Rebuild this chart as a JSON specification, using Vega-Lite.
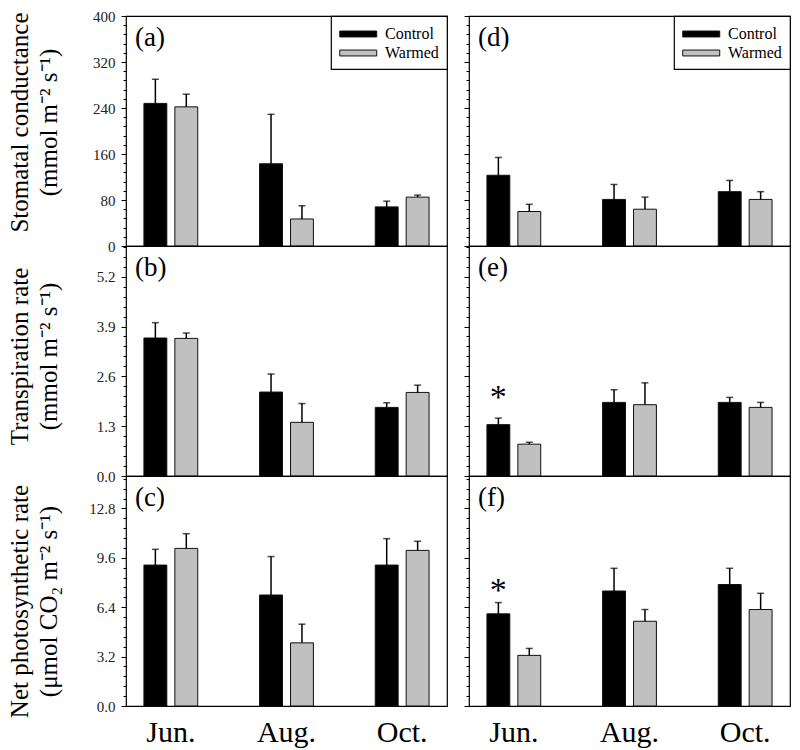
{
  "$schema": "https://vega.github.io/schema/vega-lite/v6.json",
  "padding": {"left": 6, "top": 8, "right": 5, "bottom": 0},
  "config": {
    "view": {"stroke": "#000", "strokeWidth": 1.2},
    "axis": {"labelFont": "Liberation Serif", "titleFont": "Liberation Serif", "labelColor": "#222", "titleColor": "#000", "tickColor": "#000", "tickWidth": 1, "titleFontWeight": "normal", "grid": false, "domain": false, "labelOverlap": false},
    "legend": {"orient": "top-right", "offset": 0, "title": null, "strokeColor": "#000", "strokeWidth": 1.2, "fillColor": "#fff", "padding": 8, "symbolType": "M-1,-0.32H3V0.32H-1Z", "symbolSize": 342, "symbolStrokeColor": "#111", "symbolStrokeWidth": 1, "symbolOpacity": 1, "labelFont": "Liberation Serif", "labelFontSize": 16, "labelColor": "#000", "labelOffset": 26, "rowPadding": 1, "cornerRadius": 0}
  },
  "data": {"values": [
    {"panel": "a", "month": "Jun.", "trt": "Control", "mean": 248, "hi": 290},
    {"panel": "a", "month": "Jun.", "trt": "Warmed", "mean": 242, "hi": 264},
    {"panel": "a", "month": "Aug.", "trt": "Control", "mean": 143, "hi": 229},
    {"panel": "a", "month": "Aug.", "trt": "Warmed", "mean": 47, "hi": 70},
    {"panel": "a", "month": "Oct.", "trt": "Control", "mean": 68, "hi": 78},
    {"panel": "a", "month": "Oct.", "trt": "Warmed", "mean": 85, "hi": 88.5},
    {"panel": "d", "month": "Jun.", "trt": "Control", "mean": 123, "hi": 154},
    {"panel": "d", "month": "Jun.", "trt": "Warmed", "mean": 60, "hi": 72.5},
    {"panel": "d", "month": "Aug.", "trt": "Control", "mean": 81, "hi": 107},
    {"panel": "d", "month": "Aug.", "trt": "Warmed", "mean": 64, "hi": 85},
    {"panel": "d", "month": "Oct.", "trt": "Control", "mean": 94.5, "hi": 114},
    {"panel": "d", "month": "Oct.", "trt": "Warmed", "mean": 81, "hi": 94.5},
    {"panel": "b", "month": "Jun.", "trt": "Control", "mean": 3.6, "hi": 4.0},
    {"panel": "b", "month": "Jun.", "trt": "Warmed", "mean": 3.59, "hi": 3.73},
    {"panel": "b", "month": "Aug.", "trt": "Control", "mean": 2.19, "hi": 2.66},
    {"panel": "b", "month": "Aug.", "trt": "Warmed", "mean": 1.4, "hi": 1.89},
    {"panel": "b", "month": "Oct.", "trt": "Control", "mean": 1.79, "hi": 1.91},
    {"panel": "b", "month": "Oct.", "trt": "Warmed", "mean": 2.18, "hi": 2.37},
    {"panel": "e", "month": "Jun.", "trt": "Control", "mean": 1.34, "hi": 1.51, "sig": "*"},
    {"panel": "e", "month": "Jun.", "trt": "Warmed", "mean": 0.83, "hi": 0.88},
    {"panel": "e", "month": "Aug.", "trt": "Control", "mean": 1.92, "hi": 2.25},
    {"panel": "e", "month": "Aug.", "trt": "Warmed", "mean": 1.86, "hi": 2.43},
    {"panel": "e", "month": "Oct.", "trt": "Control", "mean": 1.92, "hi": 2.05},
    {"panel": "e", "month": "Oct.", "trt": "Warmed", "mean": 1.79, "hi": 1.92},
    {"panel": "c", "month": "Jun.", "trt": "Control", "mean": 9.13, "hi": 10.15},
    {"panel": "c", "month": "Jun.", "trt": "Warmed", "mean": 10.21, "hi": 11.16},
    {"panel": "c", "month": "Aug.", "trt": "Control", "mean": 7.19, "hi": 9.68},
    {"panel": "c", "month": "Aug.", "trt": "Warmed", "mean": 4.09, "hi": 5.3},
    {"panel": "c", "month": "Oct.", "trt": "Control", "mean": 9.13, "hi": 10.84},
    {"panel": "c", "month": "Oct.", "trt": "Warmed", "mean": 10.08, "hi": 10.67},
    {"panel": "f", "month": "Jun.", "trt": "Control", "mean": 5.97, "hi": 6.7, "sig": "*"},
    {"panel": "f", "month": "Jun.", "trt": "Warmed", "mean": 3.28, "hi": 3.73},
    {"panel": "f", "month": "Aug.", "trt": "Control", "mean": 7.45, "hi": 8.92},
    {"panel": "f", "month": "Aug.", "trt": "Warmed", "mean": 5.49, "hi": 6.25},
    {"panel": "f", "month": "Oct.", "trt": "Control", "mean": 7.87, "hi": 8.92},
    {"panel": "f", "month": "Oct.", "trt": "Warmed", "mean": 6.25, "hi": 7.3}
  ]},
  "columns": 2,
  "spacing": {"row": 0, "column": 22},
  "bounds": "flush",
  "resolve": {"scale": {"y": "independent", "x": "independent"}, "legend": {"color": "independent"}},
  "concat": [
    {
      "width": 321, "height": 230,
      "resolve": {"axis": {"y": "independent"}},
      "encoding": {
        "x": {"field": "month", "type": "nominal", "sort": ["Jun.", "Aug.", "Oct."], "scale": {"range": [-13, 334], "paddingInner": 0, "paddingOuter": 0}, "axis": null},
        "xOffset": {"field": "trt", "type": "nominal", "sort": ["Control", "Warmed"], "scale": {"paddingInner": 0.26, "paddingOuter": 1.1}}
      },
      "layer": [
        {"transform": [{"filter": "datum.panel === 'a'"}],
         "mark": {"type": "bar", "stroke": "#111", "strokeWidth": 1},
         "encoding": {
           "y": {"field": "mean", "type": "quantitative", "scale": {"domain": [0, 400], "nice": false},
                 "axis": {"orient": "left", "title": ["Stomatal conductance", "(mmol m\u207b\u00b2 s\u207b\u00b9)"], "titleFontSize": 25, "titleLineHeight": 29, "titlePadding": 30, "titleY": 106, "labelFontSize": 15, "labelPadding": 6, "format": "d", "minExtent": 35, "maxExtent": 35, "labelOverlap": false, "tickSize": 5,
                          "values": [0, 80, 160, 240, 320, 400]}},
           "color": {"field": "trt", "type": "nominal", "scale": {"domain": ["Control", "Warmed"], "range": ["#000000", "#c0c0c0"]}, "legend": {}}
         }},
        {"transform": [{"filter": "datum.panel === 'a'"}], "mark": {"type": "rule", "color": "#000", "strokeWidth": 1.5}, "encoding": {"y": {"field": "mean", "type": "quantitative", "axis": null}, "y2": {"field": "hi"}}},
        {"transform": [{"filter": "datum.panel === 'a'"}], "mark": {"type": "tick", "color": "#000", "thickness": 1.5, "size": 7},
         "encoding": {"y": {"field": "hi", "type": "quantitative", "axis": {"orient": "left", "title": null, "labels": false, "tickSize": 3, "minExtent": 0, "maxExtent": 3,
                          "values": [0,16,32,48,64,80,96,112,128,144,160,176,192,208,224,240,256,272,288,304,320,336,352,368,384,400]}}}},
        {"data": {"values": [{"lab": "(a)"}]},
         "mark": {"type": "text", "font": "Liberation Serif", "fontSize": 27, "align": "left", "baseline": "top", "dx": 22, "dy": 9, "color": "#000"},
         "encoding": {"x": {"datum": "Jun.", "bandPosition": 0}, "xOffset": {"value": 0}, "y": {"datum": 400, "axis": null}, "text": {"field": "lab"}}}
      ]
    },
    {
      "width": 321, "height": 230,
      "resolve": {"axis": {"y": "independent"}},
      "encoding": {
        "x": {"field": "month", "type": "nominal", "sort": ["Jun.", "Aug.", "Oct."], "scale": {"range": [-13, 334], "paddingInner": 0, "paddingOuter": 0}, "axis": null},
        "xOffset": {"field": "trt", "type": "nominal", "sort": ["Control", "Warmed"], "scale": {"paddingInner": 0.26, "paddingOuter": 1.1}}
      },
      "layer": [
        {"transform": [{"filter": "datum.panel === 'd'"}],
         "mark": {"type": "bar", "stroke": "#111", "strokeWidth": 1},
         "encoding": {
           "y": {"field": "mean", "type": "quantitative", "scale": {"domain": [0, 400], "nice": false},
                 "axis": {"orient": "left", "title": null, "labels": false, "tickSize": 5, "minExtent": 0, "maxExtent": 5, "values": [0, 80, 160, 240, 320, 400]}},
           "color": {"field": "trt", "type": "nominal", "scale": {"domain": ["Control", "Warmed"], "range": ["#000000", "#c0c0c0"]}, "legend": {}}
         }},
        {"transform": [{"filter": "datum.panel === 'd'"}], "mark": {"type": "rule", "color": "#000", "strokeWidth": 1.5}, "encoding": {"y": {"field": "mean", "type": "quantitative", "axis": null}, "y2": {"field": "hi"}}},
        {"transform": [{"filter": "datum.panel === 'd'"}], "mark": {"type": "tick", "color": "#000", "thickness": 1.5, "size": 7},
         "encoding": {"y": {"field": "hi", "type": "quantitative", "axis": {"orient": "left", "title": null, "labels": false, "tickSize": 3, "minExtent": 0, "maxExtent": 3,
                          "values": [0,16,32,48,64,80,96,112,128,144,160,176,192,208,224,240,256,272,288,304,320,336,352,368,384,400]}}}},
        {"data": {"values": [{"lab": "(d)"}]},
         "mark": {"type": "text", "font": "Liberation Serif", "fontSize": 27, "align": "left", "baseline": "top", "dx": 22, "dy": 9, "color": "#000"},
         "encoding": {"x": {"datum": "Jun.", "bandPosition": 0}, "xOffset": {"value": 0}, "y": {"datum": 400, "axis": null}, "text": {"field": "lab"}}}
      ]
    },
    {
      "width": 321, "height": 230,
      "resolve": {"axis": {"y": "independent"}},
      "encoding": {
        "x": {"field": "month", "type": "nominal", "sort": ["Jun.", "Aug.", "Oct."], "scale": {"range": [-13, 334], "paddingInner": 0, "paddingOuter": 0}, "axis": null},
        "xOffset": {"field": "trt", "type": "nominal", "sort": ["Control", "Warmed"], "scale": {"paddingInner": 0.26, "paddingOuter": 1.1}}
      },
      "layer": [
        {"transform": [{"filter": "datum.panel === 'b'"}],
         "mark": {"type": "bar", "stroke": "#111", "strokeWidth": 1},
         "encoding": {
           "y": {"field": "mean", "type": "quantitative", "scale": {"domain": [0, 6], "nice": false},
                 "axis": {"orient": "left", "title": ["Transpiration rate", "(mmol m\u207b\u00b2 s\u207b\u00b9)"], "titleFontSize": 25, "titleLineHeight": 29, "titlePadding": 30, "titleY": 110, "labelFontSize": 15, "labelPadding": 6, "format": ".1f", "minExtent": 35, "maxExtent": 35, "labelOverlap": false, "tickSize": 5,
                          "values": [0, 1.3, 2.6, 3.9, 5.2]}},
           "color": {"field": "trt", "type": "nominal", "scale": {"domain": ["Control", "Warmed"], "range": ["#000000", "#c0c0c0"]}, "legend": null}
         }},
        {"transform": [{"filter": "datum.panel === 'b'"}], "mark": {"type": "rule", "color": "#000", "strokeWidth": 1.5}, "encoding": {"y": {"field": "mean", "type": "quantitative", "axis": null}, "y2": {"field": "hi"}}},
        {"transform": [{"filter": "datum.panel === 'b'"}], "mark": {"type": "tick", "color": "#000", "thickness": 1.5, "size": 7},
         "encoding": {"y": {"field": "hi", "type": "quantitative", "axis": {"orient": "left", "title": null, "labels": false, "tickSize": 3, "minExtent": 0, "maxExtent": 3,
                          "values": [0,0.26,0.52,0.78,1.04,1.3,1.56,1.82,2.08,2.34,2.6,2.86,3.12,3.38,3.64,3.9,4.16,4.42,4.68,4.94,5.2,5.46,5.72,5.98]}}}},
        {"data": {"values": [{"lab": "(b)"}]},
         "mark": {"type": "text", "font": "Liberation Serif", "fontSize": 27, "align": "left", "baseline": "top", "dx": 22, "dy": 9, "color": "#000"},
         "encoding": {"x": {"datum": "Jun.", "bandPosition": 0}, "xOffset": {"value": 0}, "y": {"datum": 6, "axis": null}, "text": {"field": "lab"}}}
      ]
    },
    {
      "width": 321, "height": 230,
      "resolve": {"axis": {"y": "independent"}},
      "encoding": {
        "x": {"field": "month", "type": "nominal", "sort": ["Jun.", "Aug.", "Oct."], "scale": {"range": [-13, 334], "paddingInner": 0, "paddingOuter": 0}, "axis": null},
        "xOffset": {"field": "trt", "type": "nominal", "sort": ["Control", "Warmed"], "scale": {"paddingInner": 0.26, "paddingOuter": 1.1}}
      },
      "layer": [
        {"transform": [{"filter": "datum.panel === 'e'"}],
         "mark": {"type": "bar", "stroke": "#111", "strokeWidth": 1},
         "encoding": {
           "y": {"field": "mean", "type": "quantitative", "scale": {"domain": [0, 6], "nice": false},
                 "axis": {"orient": "left", "title": null, "labels": false, "tickSize": 5, "minExtent": 0, "maxExtent": 5, "values": [0, 1.3, 2.6, 3.9, 5.2]}},
           "color": {"field": "trt", "type": "nominal", "scale": {"domain": ["Control", "Warmed"], "range": ["#000000", "#c0c0c0"]}, "legend": null}
         }},
        {"transform": [{"filter": "datum.panel === 'e'"}], "mark": {"type": "rule", "color": "#000", "strokeWidth": 1.5}, "encoding": {"y": {"field": "mean", "type": "quantitative", "axis": null}, "y2": {"field": "hi"}}},
        {"transform": [{"filter": "datum.panel === 'e'"}], "mark": {"type": "tick", "color": "#000", "thickness": 1.5, "size": 7},
         "encoding": {"y": {"field": "hi", "type": "quantitative", "axis": {"orient": "left", "title": null, "labels": false, "tickSize": 3, "minExtent": 0, "maxExtent": 3,
                          "values": [0,0.26,0.52,0.78,1.04,1.3,1.56,1.82,2.08,2.34,2.6,2.86,3.12,3.38,3.64,3.9,4.16,4.42,4.68,4.94,5.2,5.46,5.72,5.98]}}}},
        {"transform": [{"filter": "datum.panel === 'e' && datum.sig === '*'"}],
         "mark": {"type": "text", "font": "Liberation Serif", "fontSize": 34, "baseline": "middle", "dy": -20, "color": "#000"},
         "encoding": {"y": {"field": "hi", "type": "quantitative", "axis": null}, "text": {"field": "sig"}}},
        {"data": {"values": [{"lab": "(e)"}]},
         "mark": {"type": "text", "font": "Liberation Serif", "fontSize": 27, "align": "left", "baseline": "top", "dx": 22, "dy": 9, "color": "#000"},
         "encoding": {"x": {"datum": "Jun.", "bandPosition": 0}, "xOffset": {"value": 0}, "y": {"datum": 6, "axis": null}, "text": {"field": "lab"}}}
      ]
    },
    {
      "width": 321, "height": 230,
      "resolve": {"axis": {"y": "independent"}},
      "encoding": {
        "x": {"field": "month", "type": "nominal", "sort": ["Jun.", "Aug.", "Oct."], "scale": {"range": [-13, 334], "paddingInner": 0, "paddingOuter": 0},
              "axis": {"title": null, "labelFontSize": 30, "labelColor": "#000", "ticks": false, "tickSize": 0, "labelPadding": 11, "labelAngle": 0}},
        "xOffset": {"field": "trt", "type": "nominal", "sort": ["Control", "Warmed"], "scale": {"paddingInner": 0.26, "paddingOuter": 1.1}}
      },
      "layer": [
        {"transform": [{"filter": "datum.panel === 'c'"}],
         "mark": {"type": "bar", "stroke": "#111", "strokeWidth": 1},
         "encoding": {
           "y": {"field": "mean", "type": "quantitative", "scale": {"domain": [0, 14.9], "nice": false},
                 "axis": {"orient": "left", "title": ["Net photosynthetic rate", "(\u03bcmol CO\u2082 m\u207b\u00b2 s\u207b\u00b9)"], "titleFontSize": 25, "titleLineHeight": 29, "titlePadding": 30, "titleY": 125, "labelFontSize": 15, "labelPadding": 6, "format": ".1f", "minExtent": 35, "maxExtent": 35, "labelOverlap": false, "tickSize": 5,
                          "values": [0, 3.2, 6.4, 9.6, 12.8]}},
           "color": {"field": "trt", "type": "nominal", "scale": {"domain": ["Control", "Warmed"], "range": ["#000000", "#c0c0c0"]}, "legend": null}
         }},
        {"transform": [{"filter": "datum.panel === 'c'"}], "mark": {"type": "rule", "color": "#000", "strokeWidth": 1.5}, "encoding": {"y": {"field": "mean", "type": "quantitative", "axis": null}, "y2": {"field": "hi"}}},
        {"transform": [{"filter": "datum.panel === 'c'"}], "mark": {"type": "tick", "color": "#000", "thickness": 1.5, "size": 7},
         "encoding": {"y": {"field": "hi", "type": "quantitative", "axis": {"orient": "left", "title": null, "labels": false, "tickSize": 3, "minExtent": 0, "maxExtent": 3,
                          "values": [0,0.64,1.28,1.92,2.56,3.2,3.84,4.48,5.12,5.76,6.4,7.04,7.68,8.32,8.96,9.6,10.24,10.88,11.52,12.16,12.8,13.44,14.08,14.72]}}}},
        {"data": {"values": [{"lab": "(c)"}]},
         "mark": {"type": "text", "font": "Liberation Serif", "fontSize": 27, "align": "left", "baseline": "top", "dx": 22, "dy": 9, "color": "#000"},
         "encoding": {"x": {"datum": "Jun.", "bandPosition": 0}, "xOffset": {"value": 0}, "y": {"datum": 14.9, "axis": null}, "text": {"field": "lab"}}}
      ]
    },
    {
      "width": 321, "height": 230,
      "resolve": {"axis": {"y": "independent"}},
      "encoding": {
        "x": {"field": "month", "type": "nominal", "sort": ["Jun.", "Aug.", "Oct."], "scale": {"range": [-13, 334], "paddingInner": 0, "paddingOuter": 0},
              "axis": {"title": null, "labelFontSize": 30, "labelColor": "#000", "ticks": false, "tickSize": 0, "labelPadding": 11, "labelAngle": 0}},
        "xOffset": {"field": "trt", "type": "nominal", "sort": ["Control", "Warmed"], "scale": {"paddingInner": 0.26, "paddingOuter": 1.1}}
      },
      "layer": [
        {"transform": [{"filter": "datum.panel === 'f'"}],
         "mark": {"type": "bar", "stroke": "#111", "strokeWidth": 1},
         "encoding": {
           "y": {"field": "mean", "type": "quantitative", "scale": {"domain": [0, 14.9], "nice": false},
                 "axis": {"orient": "left", "title": null, "labels": false, "tickSize": 5, "minExtent": 0, "maxExtent": 5, "values": [0, 3.2, 6.4, 9.6, 12.8]}},
           "color": {"field": "trt", "type": "nominal", "scale": {"domain": ["Control", "Warmed"], "range": ["#000000", "#c0c0c0"]}, "legend": null}
         }},
        {"transform": [{"filter": "datum.panel === 'f'"}], "mark": {"type": "rule", "color": "#000", "strokeWidth": 1.5}, "encoding": {"y": {"field": "mean", "type": "quantitative", "axis": null}, "y2": {"field": "hi"}}},
        {"transform": [{"filter": "datum.panel === 'f'"}], "mark": {"type": "tick", "color": "#000", "thickness": 1.5, "size": 7},
         "encoding": {"y": {"field": "hi", "type": "quantitative", "axis": {"orient": "left", "title": null, "labels": false, "tickSize": 3, "minExtent": 0, "maxExtent": 3,
                          "values": [0,0.64,1.28,1.92,2.56,3.2,3.84,4.48,5.12,5.76,6.4,7.04,7.68,8.32,8.96,9.6,10.24,10.88,11.52,12.16,12.8,13.44,14.08,14.72]}}}},
        {"transform": [{"filter": "datum.panel === 'f' && datum.sig === '*'"}],
         "mark": {"type": "text", "font": "Liberation Serif", "fontSize": 34, "baseline": "middle", "dy": -12, "color": "#000"},
         "encoding": {"y": {"field": "hi", "type": "quantitative", "axis": null}, "text": {"field": "sig"}}},
        {"data": {"values": [{"lab": "(f)"}]},
         "mark": {"type": "text", "font": "Liberation Serif", "fontSize": 27, "align": "left", "baseline": "top", "dx": 22, "dy": 9, "color": "#000"},
         "encoding": {"x": {"datum": "Jun.", "bandPosition": 0}, "xOffset": {"value": 0}, "y": {"datum": 14.9, "axis": null}, "text": {"field": "lab"}}}
      ]
    }
  ]
}
